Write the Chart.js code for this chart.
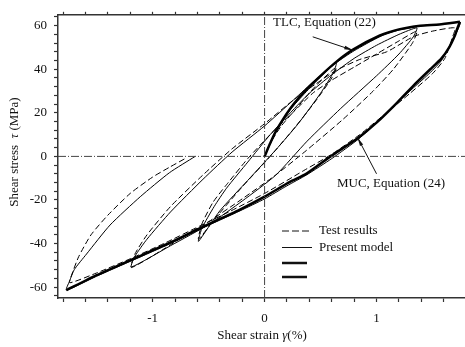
<!DOCTYPE html>
<html>
<head>
<meta charset="utf-8">
<script src="https://cdn.jsdelivr.net/npm/chart.js@4.4.1/dist/chart.umd.min.js"></script>
<style>
html, body { margin: 0; padding: 0; background: #fff; }
</style>
</head>
<body>
<canvas id="chart" width="465" height="347"></canvas>
<script>
// axis ranges
var strainMin = -1.845, strainMax = 1.79;
var stressMin = -65, stressMax = 65;

// present model (thin solid line), one path through all loops
var modelStrain = [0, 0.1, 0.23, 0.36, 0.5, 0.64,
    0.62, 0.5, 0.3, 0.1, -0.15, -0.4, -0.59,
    -0.56, -0.45, -0.34, -0.15, 0.05, 0.23, 0.4, 0.6, 0.8, 1.0, 1.2, 1.36,
    1.33, 1.2, 1.0, 0.68, 0.38, 0.1, -0.2, -0.49, -0.84, -1.19,
    -1.16, -1.05, -0.84, -0.55, -0.29, 0, 0.26, 0.45, 0.64, 0.8, 1.03, 1.2, 1.41, 1.56, 1.745,
    1.725, 1.7, 1.65, 1.58, 1.48, 1.33, 1.18, 1.0, 0.84, 0.6, 0.375, 0.2, 0, -0.22, -0.58, -0.84, -1.17, -1.5, -1.77,
    -1.74, -1.7, -1.59, -1.38, -1.11, -0.85, -0.62];
var modelStress = [0, 11, 21.5, 29, 36.5, 43,
    39, 29, 15, 3, -11, -25, -39,
    -33, -23, -14.6, -2.6, 10, 20, 29, 37.5, 45, 51, 56, 59,
    55, 47, 37, 22, 7, -8.6, -20.5, -31, -41, -50.8,
    -46, -38, -25.5, -10.5, 2, 14, 26, 35, 43, 48.5, 55, 58, 60, 60.5, 61.5,
    58, 55.5, 50.5, 44, 38.5, 31.5, 24.5, 15.5, 8, -1, -8.5, -13.5, -19.5, -25, -33.5, -40, -47.5, -55, -61.4,
    -57, -52, -44.8, -31.5, -18.5, -7.5, 0];

// test results (thin dashed line)
var testStrain = [0, 0.05, 0.15, 0.3, 0.45, 0.64,
    0.6, 0.45, 0.25, 0.05, -0.2, -0.45, -0.59,
    -0.56, -0.46, -0.34, -0.15, 0.05, 0.25, 0.43, 0.6, 0.8, 1.0, 1.2, 1.36,
    1.32, 1.15, 0.97, 0.7, 0.375, 0.1, -0.2, -0.5, -0.67, -0.9, -1.19,
    -1.16, -1.05, -0.84, -0.55, -0.29, 0, 0.26, 0.45, 0.64, 0.85, 1.09, 1.33, 1.5, 1.7,
    1.68, 1.61, 1.5, 1.3, 1.1, 0.85, 0.6, 0.35, 0, -0.3, -0.58, -0.9, -1.2, -1.5, -1.74,
    -1.72, -1.66, -1.55, -1.4, -1.2, -1.0, -0.85, -0.71];
var testStress = [0, 6, 14, 23, 32, 41,
    36, 25, 12, 0, -14, -29, -38,
    -31, -21, -13, -1, 10, 20, 29, 35, 41, 47, 53, 57.5,
    52, 40, 30, 17, 2.8, -8.5, -19.5, -30, -35, -42.5, -51,
    -45, -36, -23, -8.5, 3.5, 15, 26, 33, 39.5, 44.5, 48, 55, 57.5, 59,
    55, 45, 38, 29, 20.5, 10, 1, -6.5, -17, -25, -32, -40, -47, -53.5, -58,
    -54, -46, -36, -27, -17, -9.5, -5, -1];

// TLC, Equation (22) (thick)
var tlcStrain = [0, 0.05, 0.1, 0.23, 0.36, 0.5, 0.64, 0.79, 1.03, 1.2, 1.39, 1.56, 1.745];
var tlcStress = [0, 6, 11.5, 22, 30, 37, 43.4, 49, 55.5, 58.3, 60, 60.6, 61.8];

// MUC, Equation (24) (thick)
var mucStrain = [-1.77, -1.5, -1.17, -0.84, -0.58, -0.22, 0, 0.226, 0.375, 0.59, 0.84, 1.0, 1.18, 1.33, 1.48, 1.58, 1.65, 1.7, 1.72, 1.745];
var mucStress = [-61.4, -54.5, -47, -39.5, -33, -24.4, -18.5, -11.7, -7.9, 0, 8.7, 15.5, 24.5, 32.5, 40, 45, 50.2, 55.5, 58.5, 61.8];

var legendLabels = ["Test results", "Present model", "", ""];

const toPoints = (xs, ys) => xs.map((x, i) => ({x: x, y: ys[i]}));

var serif = "'Liberation Serif', 'Times New Roman', serif";
var axisColor = "#333";

/* write a title made of plain and italic pieces, centred on (cx, cy) */
const drawParts = (ctx, parts, cx, cy) => {
    var total = 0;
    parts.forEach((p) => {
        ctx.font = (p[1] ? "italic " : "") + "13px " + serif;
        total += ctx.measureText(p[0]).width;
    });
    var x = cx - total / 2;
    parts.forEach((p) => {
        ctx.font = (p[1] ? "italic " : "") + "13px " + serif;
        ctx.fillText(p[0], x, cy);
        x += ctx.measureText(p[0]).width;
    });
};

/* legend, axis titles and the two labelled arrows */
const extrasPlugin = {
    id: "extras",
    afterDraw: (chart) => {
        var ctx = chart.ctx;
        var xs = chart.scales.x, ys = chart.scales.y;
        ctx.save();
        ctx.fillStyle = "#111";
        ctx.strokeStyle = "#111";
        ctx.textBaseline = "middle";
        ctx.textAlign = "left";

        // axis titles
        drawParts(ctx, [["Shear strain ", false], ["γ", true], ["(%)", false]], 262, 336);
        ctx.save();
        ctx.translate(15, 152);
        ctx.rotate(-Math.PI / 2);
        drawParts(ctx, [["Shear stress  ", false], ["τ", true], [" (MPa)", false]], 0, 0);
        ctx.restore();

        ctx.font = "13px " + serif;
        // legend
        var styles = [
            {w: 1, dash: [7, 3]},
            {w: 1, dash: []},
            {w: 2.5, dash: []},
            {w: 2.5, dash: []}
        ];
        var rows = [231, 247.5, 263, 277];
        for (var i = 0; i < rows.length; i++) {
            ctx.lineWidth = styles[i].w;
            ctx.setLineDash(styles[i].dash);
            ctx.beginPath();
            ctx.moveTo(282, rows[i]);
            ctx.lineTo(i < 2 ? 312 : 307, rows[i]);
            ctx.stroke();
            ctx.setLineDash([]);
            if (legendLabels[i]) ctx.fillText(legendLabels[i], 319, rows[i]);
        }

        // annotations
        ctx.fillText("TLC, Equation (22)", 273, 23);
        ctx.fillText("MUC, Equation (24)", 337, 184);
        var arrow = (x0, y0, x1, y1) => {
            var a = xs.getPixelForValue(x0), b = ys.getPixelForValue(y0);
            var c = xs.getPixelForValue(x1), d = ys.getPixelForValue(y1);
            ctx.lineWidth = 1;
            ctx.beginPath();
            ctx.moveTo(a, b);
            ctx.lineTo(c, d);
            ctx.stroke();
            var ang = Math.atan2(d - b, c - a);
            ctx.beginPath();
            ctx.moveTo(c, d);
            ctx.lineTo(c - 9 * Math.cos(ang - 0.2), d - 9 * Math.sin(ang - 0.2));
            ctx.lineTo(c - 9 * Math.cos(ang + 0.2), d - 9 * Math.sin(ang + 0.2));
            ctx.closePath();
            ctx.fill();
        };
        arrow(0.43, 54.9, 0.79, 48.7);
        arrow(1.0, -8, 0.83, 8.7);
        ctx.restore();
    }
};

var thinLine = {borderColor: "#000", pointRadius: 0, showLine: true, fill: false, tension: 0.2};

new Chart("chart", {
    type: "scatter",
    data: {
        datasets: [
            {label: "zero stress", data: toPoints([strainMin, strainMax], [0, 0]), borderColor: "#444", borderWidth: 1, borderDash: [8, 2, 1, 2], pointRadius: 0, showLine: true},
            {label: "zero strain", data: toPoints([0, 0], [stressMin, stressMax]), borderColor: "#444", borderWidth: 1, borderDash: [8, 2, 1, 2], pointRadius: 0, showLine: true},
            Object.assign({label: "Test results", data: toPoints(testStrain, testStress), borderWidth: 1, borderDash: [6, 3]}, thinLine),
            Object.assign({label: "Present model", data: toPoints(modelStrain, modelStress), borderWidth: 1}, thinLine),
            Object.assign({label: "TLC", data: toPoints(tlcStrain, tlcStress), borderWidth: 2.5}, thinLine),
            Object.assign({label: "MUC", data: toPoints(mucStrain, mucStress), borderWidth: 2.5}, thinLine)
        ]
    },
    options: {
        responsive: false,
        animation: false,
        devicePixelRatio: 1,
        layout: {padding: 0},
        plugins: {
            legend: {display: false},
            tooltip: {enabled: false}
        },
        scales: {
            x: {
                type: "linear",
                position: "bottom",
                min: strainMin,
                max: strainMax,
                afterFit: (scale) => { scale.height = 49; },
                border: {display: true, color: axisColor, width: 1.5},
                grid: {drawOnChartArea: false, drawTicks: true, tickLength: 4, color: axisColor, tickWidth: 1.2},
                ticks: {
                    stepSize: 0.2,
                    includeBounds: false,
                    autoSkip: false,
                    maxRotation: 0,
                    padding: 9,
                    color: "#111",
                    font: {family: serif, size: 13},
                    callback: (v) => Math.abs(v - Math.round(v)) < 1e-6 ? String(Math.round(v)) : ""
                }
            },
            xTop: {
                type: "linear",
                position: "top",
                min: strainMin,
                max: strainMax,
                afterFit: (scale) => { scale.height = 11; },
                border: {display: true, color: axisColor, width: 1.5},
                grid: {drawOnChartArea: false, drawTicks: true, tickLength: 3, color: axisColor, tickWidth: 1.2},
                ticks: {stepSize: 0.2, includeBounds: false, autoSkip: false, display: false}
            },
            y: {
                type: "linear",
                position: "left",
                min: stressMin,
                max: stressMax,
                afterFit: (scale) => { scale.width = 58; },
                border: {display: true, color: axisColor, width: 1.5},
                grid: {drawOnChartArea: false, drawTicks: true, tickLength: 4, color: axisColor, tickWidth: 1.2},
                ticks: {
                    stepSize: 4,
                    includeBounds: false,
                    autoSkip: false,
                    padding: 7,
                    color: "#111",
                    font: {family: serif, size: 13},
                    callback: (v) => v % 20 === 0 ? String(v) : ""
                }
            }
        }
    },
    plugins: [extrasPlugin]
});
</script>
</body>
</html>
